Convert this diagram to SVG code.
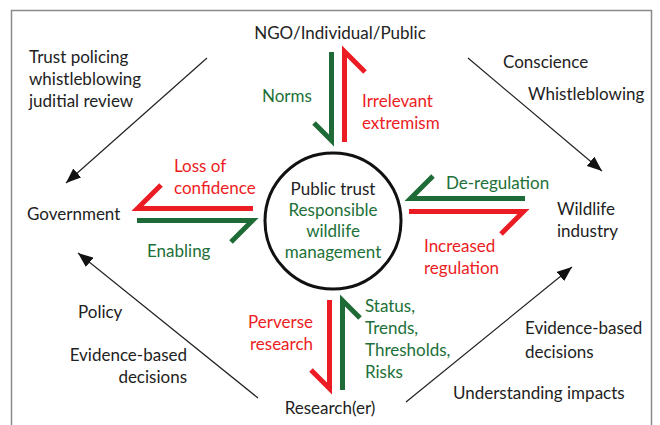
<svg xmlns="http://www.w3.org/2000/svg" width="660" height="425" viewBox="0 0 660 425">
<style>
text{font-family:Lato,"Open Sans","Liberation Sans",sans-serif;font-size:17px;fill:#222}
.g{fill:#217038}
.r{fill:#ec1c24}
.m{text-anchor:middle}
.e{text-anchor:end}
.hg{fill:none;stroke:#1f6b37;stroke-width:5;stroke-linejoin:miter;stroke-miterlimit:10}
.hr{fill:none;stroke:#ec1c24;stroke-width:5;stroke-linejoin:miter;stroke-miterlimit:10}
.ln{stroke:#222;stroke-width:1.2;fill:none}
</style>
<defs>
<marker id="ah" markerUnits="userSpaceOnUse" markerWidth="16" markerHeight="12" refX="15" refY="6" orient="auto">
<path d="M0,0 L15,6 L0,12 Z" fill="#111"/>
</marker>
</defs>
<rect width="660" height="425" fill="#fff"/>
<path d="M11.5,430 V10.5 H651.5 V430" fill="none" stroke="#8a8a8a" stroke-width="1.5"/>

<g id="connectors">
<line class="ln" x1="207" y1="58" x2="66" y2="183" marker-end="url(#ah)"/>
<line class="ln" x1="468" y1="58" x2="602" y2="171" marker-end="url(#ah)"/>
<line class="ln" x1="258" y1="398" x2="78" y2="253" marker-end="url(#ah)"/>
<line class="ln" x1="406" y1="402" x2="572" y2="267" marker-end="url(#ah)"/>
<polyline class="hg" points="314,123 331.5,140.5 331.5,52"/>
<polyline class="hr" points="365,72 344.5,51.5 344.5,142"/>
<polyline class="hr" points="161,185 137.5,208.5 253,208.5"/>
<polyline class="hg" points="231,242 252.5,220.5 137,220.5"/>
<polyline class="hg" points="433,176 410.5,198.5 525,198.5"/>
<polyline class="hr" points="501,234 523.5,211.5 409,211.5"/>
<polyline class="hr" points="311,370 329.5,388.5 329.5,300"/>
<polyline class="hg" points="360,318 342.5,300.5 342.5,390"/>
</g>

<g id="center">
<circle cx="333" cy="221" r="68" fill="none" stroke="#111" stroke-width="3"/>
<text class="m" x="333" y="195">Public trust</text>
<text class="m g" x="333" y="216">Responsible</text>
<text class="m g" x="333" y="237">wildlife</text>
<text class="m g" x="333" y="258">management</text>
</g>

<g id="ngo"><text class="m" x="340" y="39">NGO/Individual/Public</text></g>
<g id="government"><text x="27" y="220">Government</text></g>
<g id="wildlife-industry"><text x="557" y="215">Wildlife</text><text x="557" y="237">industry</text></g>
<g id="researcher"><text class="m" x="330" y="414">Research(er)</text></g>

<g id="labels">
<text x="29" y="63">Trust policing</text>
<text x="29" y="85">whistleblowing</text>
<text x="29" y="107">juditial review</text>
<text x="503" y="68">Conscience</text>
<text x="528" y="100">Whistleblowing</text>
<text class="g" x="262" y="102">Norms</text>
<text class="r" x="362" y="107">Irrelevant</text>
<text class="r" x="362" y="129">extremism</text>
<text class="r" x="174" y="172">Loss of</text>
<text class="r" x="174" y="194">confidence</text>
<text class="g" x="147" y="257">Enabling</text>
<text class="g" x="446" y="189">De-regulation</text>
<text class="r" x="424" y="252">Increased</text>
<text class="r" x="424" y="274">regulation</text>
<text x="78" y="318">Policy</text>
<text class="e" x="187" y="361">Evidence-based</text>
<text class="e" x="187" y="383">decisions</text>
<text class="r e" x="313" y="328">Perverse</text>
<text class="r e" x="313" y="350">research</text>
<text class="g" x="365" y="312">Status,</text>
<text class="g" x="365" y="334">Trends,</text>
<text class="g" x="365" y="356">Thresholds,</text>
<text class="g" x="365" y="378">Risks</text>
<text x="525" y="334">Evidence-based</text>
<text x="525" y="358">decisions</text>
<text x="453" y="399">Understanding impacts</text>
</g>
</svg>
